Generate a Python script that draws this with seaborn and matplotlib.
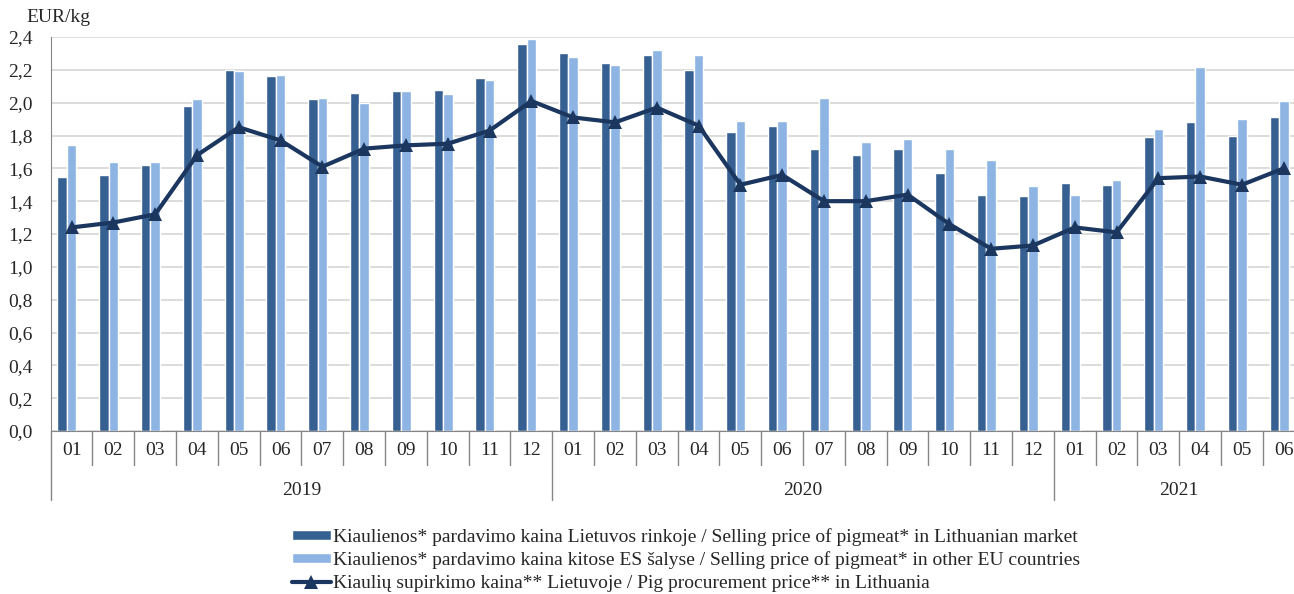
import seaborn as sns
import matplotlib.pyplot as plt
import matplotlib.transforms as mtransforms
from matplotlib.patches import Patch
from matplotlib.lines import Line2D
import pandas as pd
import numpy as np

years = ["2019", "2020", "2021"]
months_per_year = [12, 12, 6]
month_labels = ["01", "02", "03", "04", "05", "06", "07", "08", "09", "10", "11", "12",
                "01", "02", "03", "04", "05", "06", "07", "08", "09", "10", "11", "12",
                "01", "02", "03", "04", "05", "06"]

lt_market = [1.55, 1.56, 1.62, 1.98, 2.20, 2.16, 2.02, 2.06, 2.07, 2.08, 2.15, 2.36,
             2.30, 2.24, 2.29, 2.20, 1.82, 1.86, 1.72, 1.68, 1.72, 1.57, 1.44, 1.43,
             1.51, 1.50, 1.79, 1.88, 1.80, 1.91]
eu_market = [1.74, 1.64, 1.64, 2.02, 2.19, 2.17, 2.03, 2.00, 2.07, 2.05, 2.14, 2.39,
             2.28, 2.23, 2.32, 2.29, 1.89, 1.89, 2.03, 1.76, 1.78, 1.72, 1.65, 1.49,
             1.44, 1.53, 1.84, 2.22, 1.90, 2.01]
procurement = [1.24, 1.27, 1.32, 1.68, 1.85, 1.77, 1.61, 1.72, 1.74, 1.75, 1.83, 2.01,
               1.91, 1.88, 1.97, 1.86, 1.50, 1.56, 1.40, 1.40, 1.44, 1.26, 1.11, 1.13,
               1.24, 1.21, 1.54, 1.55, 1.50, 1.60]

lab_lt = "Kiaulienos* pardavimo kaina Lietuvos rinkoje / Selling price of pigmeat* in Lithuanian market"
lab_eu = "Kiaulienos* pardavimo kaina kitose ES šalyse / Selling price of pigmeat* in other EU countries"
lab_pp = "Kiaulių supirkimo kaina** Lietuvoje / Pig procurement price** in Lithuania"

c_dark = "#366092"
c_light = "#8DB4E2"
c_line = "#1B365F"

periods = []
for y, n in zip(years, months_per_year):
    periods += [f"{y}-{m:02d}" for m in range(1, n + 1)]

df = pd.DataFrame({
    "period": periods * 3,
    "price": lt_market + eu_market + [np.nan] * len(periods),
    "series": [lab_lt] * len(periods) + [lab_eu] * len(periods) + ["_gap"] * len(periods),
})

sns.set_style("white")
plt.rcParams["font.family"] = ["Liberation Serif", "DejaVu Serif"]
fs = 14

fig = plt.figure(figsize=(12.94, 5.94), dpi=100)
ax = fig.add_axes([50.7 / 1294, 163 / 594, 30 * 41.8 / 1294, 394 / 594])

# third (empty) hue level keeps the Excel-like offset of the bar pairs
sns.barplot(data=df, x="period", y="price", hue="series",
            hue_order=[lab_lt, lab_eu, "_gap"],
            palette=[c_dark, c_light, "white"], width=0.675, gap=0,
            saturation=1, legend=False, ax=ax, zorder=2)

x = np.arange(len(periods))
sns.lineplot(x=x, y=procurement, color=c_line, lw=3, marker="^", markersize=10.5,
             markeredgewidth=0, ax=ax, zorder=3)

ax.set_xlim(-0.5, len(periods) - 0.5)
ax.set_ylim(0, 2.4)
ax.set_yticks(np.arange(0, 2.41, 0.2))
ax.set_yticklabels([f"{v:.1f}".replace(".", ",") for v in np.arange(0, 2.41, 0.2)])
ax.yaxis.grid(True, color="#D9D9D9", lw=1.3, zorder=0)
ax.set_axisbelow(True)
ax.set_xlabel("")
ax.set_ylabel("")
for s in ["top", "right"]:
    ax.spines[s].set_visible(False)
ax.spines["left"].set_color("#868686")
ax.spines["bottom"].set_color("#868686")
ax.tick_params(axis="y", length=5, color="#868686", pad=8, labelsize=fs)
ax.tick_params(axis="x", length=0, pad=8, labelsize=fs)
ax.set_xticks(x)
ax.set_xticklabels(month_labels)

# category separators below the axis
trans = mtransforms.blended_transform_factory(ax.transData, ax.transAxes)
bounds = np.cumsum([0] + months_per_year) - 0.5
for b in np.arange(len(periods) + 1) - 0.5:
    low = -0.175 if b in bounds else -0.087
    ax.plot([b, b], [0, low], color="#868686", lw=1, transform=trans, clip_on=False)

start = 0
for y, n in zip(years, months_per_year):
    ax.text(start + (n - 1) / 2, -0.152, y, transform=trans, ha="center", va="center",
            fontsize=fs)
    start += n

fig.text(26 / 1294, 1 - 17 / 594, "EUR/kg", ha="left", va="center", fontsize=fs)

handles = [Patch(facecolor=c_dark), Patch(facecolor=c_light),
           Line2D([], [], color=c_line, lw=3, marker="^", markersize=10.5, markeredgewidth=0)]
fig.legend(handles, [lab_lt, lab_eu, lab_pp], loc="upper left",
           bbox_to_anchor=(292 / 1294, 1 - 528 / 594), frameon=False, fontsize=fs,
           handlelength=2.0, handleheight=0.45, handletextpad=0.1, labelspacing=0.28,
           borderpad=0, borderaxespad=0)

fig.savefig("out.png", dpi=100)
